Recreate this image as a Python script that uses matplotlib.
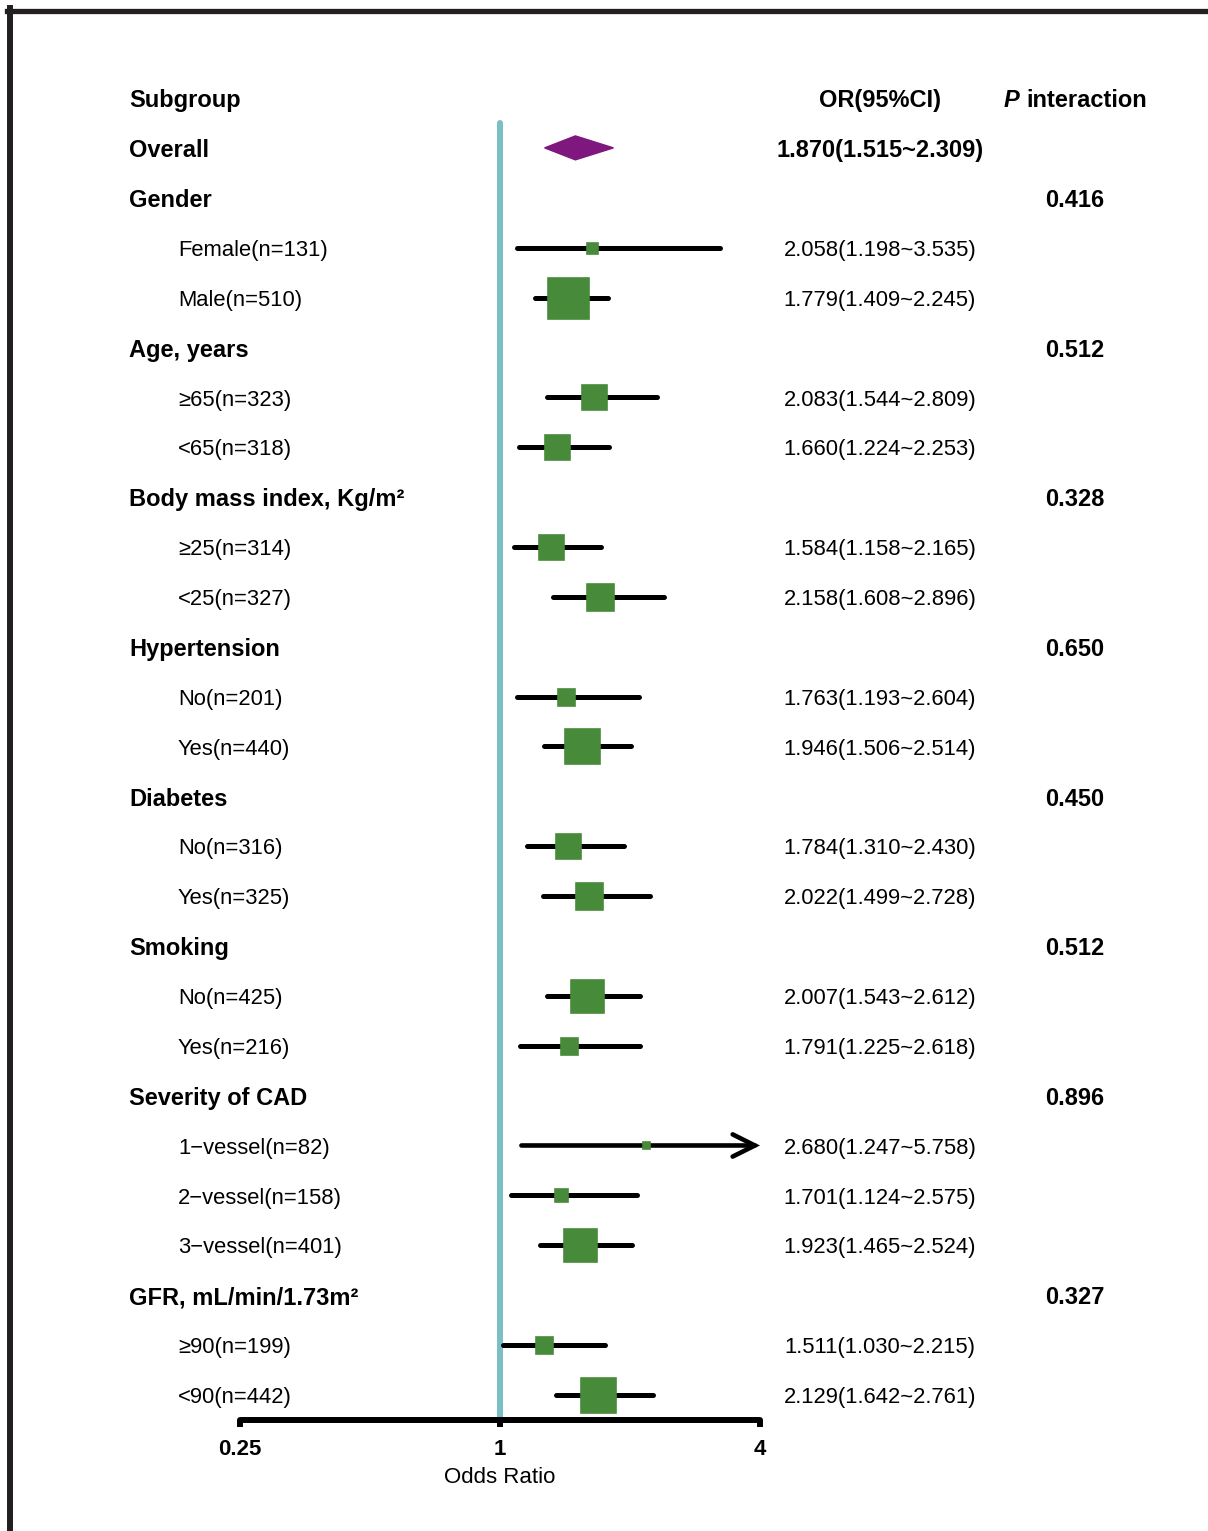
import matplotlib.pyplot as plt
from matplotlib.lines import Line2D
from matplotlib.patches import Polygon
from matplotlib.transforms import blended_transform_factory

plt.rcParams['font.family'] = ['Liberation Sans', 'DejaVu Sans']

# subgroup analysis table
groups = ["Gender", "Age, years", "Body mass index, Kg/m\u00b2", "Hypertension",
          "Diabetes", "Smoking", "Severity of CAD", "GFR, mL/min/1.73m\u00b2"]
p_interaction = ["0.416", "0.512", "0.328", "0.650", "0.450", "0.512", "0.896", "0.327"]
subgroups = [["Female", "Male"], ["\u226565", "<65"], ["\u226525", "<25"], ["No", "Yes"],
             ["No", "Yes"], ["No", "Yes"],
             ["1\u2212vessel", "2\u2212vessel", "3\u2212vessel"], ["\u226590", "<90"]]
n_patients = [[131, 510], [323, 318], [314, 327], [201, 440], [316, 325], [425, 216],
              [82, 158, 401], [199, 442]]
odds_ratio = [[2.058, 1.779], [2.083, 1.660], [1.584, 2.158], [1.763, 1.946],
              [1.784, 2.022], [2.007, 1.791], [2.680, 1.701, 1.923], [1.511, 2.129]]
ci_low = [[1.198, 1.409], [1.544, 1.224], [1.158, 1.608], [1.193, 1.506],
          [1.310, 1.499], [1.543, 1.225], [1.247, 1.124, 1.465], [1.030, 1.642]]
ci_high = [[3.535, 2.245], [2.809, 2.253], [2.165, 2.896], [2.604, 2.514],
           [2.430, 2.728], [2.612, 2.618], [5.758, 2.575, 2.524], [2.215, 2.761]]
overall_or, overall_low, overall_high = 1.870, 1.515, 2.309

tick_pos = [-2, 1, 4]
tick_labels = ["0.25", "1", "4"]

GREEN = "#468a3a"
PURPLE = "#7e177e"
TEAL = "#7bbec6"

W, H = 1208, 1531
fig = plt.figure(figsize=(W / 100, H / 100), dpi=100)
ax = fig.add_axes([0, 0, 1, 1])

px_unit = 520 / 6          # pixels per x unit
row_px = 49.88             # pixels per table row
top_px = 98
ax.set_xlim(-2 - 240 / px_unit, 4 + (W - 760) / px_unit)
ax.set_ylim((H - top_px) / row_px, -top_px / row_px)
x_max = 4

for s in ["top", "left", "right"]:
    ax.spines[s].set_visible(False)
ax.yaxis.set_visible(False)
ax.spines["bottom"].set_position(("data", 26.5))
ax.spines["bottom"].set_bounds(-2, 4)
ax.spines["bottom"].set_linewidth(4.3)
ax.spines["bottom"].set_capstyle("round")
ax.set_xticks(tick_pos)
ax.set_xticklabels(tick_labels, fontsize=16, fontweight="bold")
ax.tick_params(axis="x", length=5, width=4.3, pad=9)
ax.set_xlabel("Odds Ratio", fontsize=16)
ax.xaxis.set_label_coords(1, 27.45, transform=ax.transData)

tx = blended_transform_factory(fig.transFigure, ax.transData)
col_label, col_sub, col_or, col_p = 129 / W, 178 / W, 880 / W, 1075 / W
dy = 0.055                 # nudge text onto the marker rows
bold = dict(fontsize=17, fontweight="bold", va="center", transform=tx)
reg = dict(fontsize=15.8, va="center", transform=tx)

# header
ax.text(col_label, dy, "Subgroup", **bold)
ax.text(col_or, dy, "OR(95%CI)", ha="center", **bold)
ax.text(1004 / W, dy, "P", style="italic", **bold)
ax.text(1026 / W, dy, "interaction", **bold)

# reference line at OR = 1
ax.plot([1, 1], [0.5, 26.5], color=TEAL, lw=4.3, solid_capstyle="round", zorder=1)

# overall estimate
ax.text(col_label, 1 + dy, "Overall", **bold)
ax.text(col_or, 1 + dy, f"{overall_or:.3f}({overall_low:.3f}~{overall_high:.3f})",
        ha="center", **bold)
h = 0.24
ax.add_patch(Polygon([(overall_low, 1), (overall_or, 1 - h), (overall_high, 1),
                      (overall_or, 1 + h)], closed=True, color=PURPLE, zorder=3))

r = 2
for g, p, subs, ns, ors, los, his in zip(groups, p_interaction, subgroups, n_patients,
                                          odds_ratio, ci_low, ci_high):
    ax.text(col_label, r + dy, g, **bold)
    ax.text(col_p, r + dy, p, ha="center", **bold)
    r += 1
    for sub, n, o, lo, hi in zip(subs, ns, ors, los, his):
        ax.text(col_sub, r + dy, f"{sub}(n={n})", **reg)
        ax.text(col_or, r + dy, f"{o:.3f}({lo:.3f}~{hi:.3f})", ha="center", **reg)
        if hi > x_max:
            # interval runs past the axis, draw it as an arrow
            ax.annotate("", xy=(x_max, r), xytext=(lo, r), annotation_clip=False,
                        arrowprops=dict(arrowstyle="->,head_length=1.6,head_width=0.8",
                                        lw=3.3, color="black", shrinkA=0, shrinkB=0,
                                        mutation_scale=10, capstyle="round",
                                        joinstyle="miter"), zorder=2)
        else:
            ax.plot([lo, hi], [r, r], color="black", lw=3.6,
                    solid_capstyle="round", zorder=2)
        ax.plot(o, r, marker="s", ms=0.0557 * n, mew=1.9, color=GREEN, zorder=3)
        r += 1

# frame on top and left
edge = "#231f20"
fig.add_artist(Line2D([7 / W, 1], [1 - 10.5 / H, 1 - 10.5 / H], color=edge, lw=3.8,
                      transform=fig.transFigure))
fig.add_artist(Line2D([9.5 / W, 9.5 / W], [1 - 8 / H, 0], color=edge, lw=4.3,
                      transform=fig.transFigure))

fig.savefig("out.png", dpi=100)
